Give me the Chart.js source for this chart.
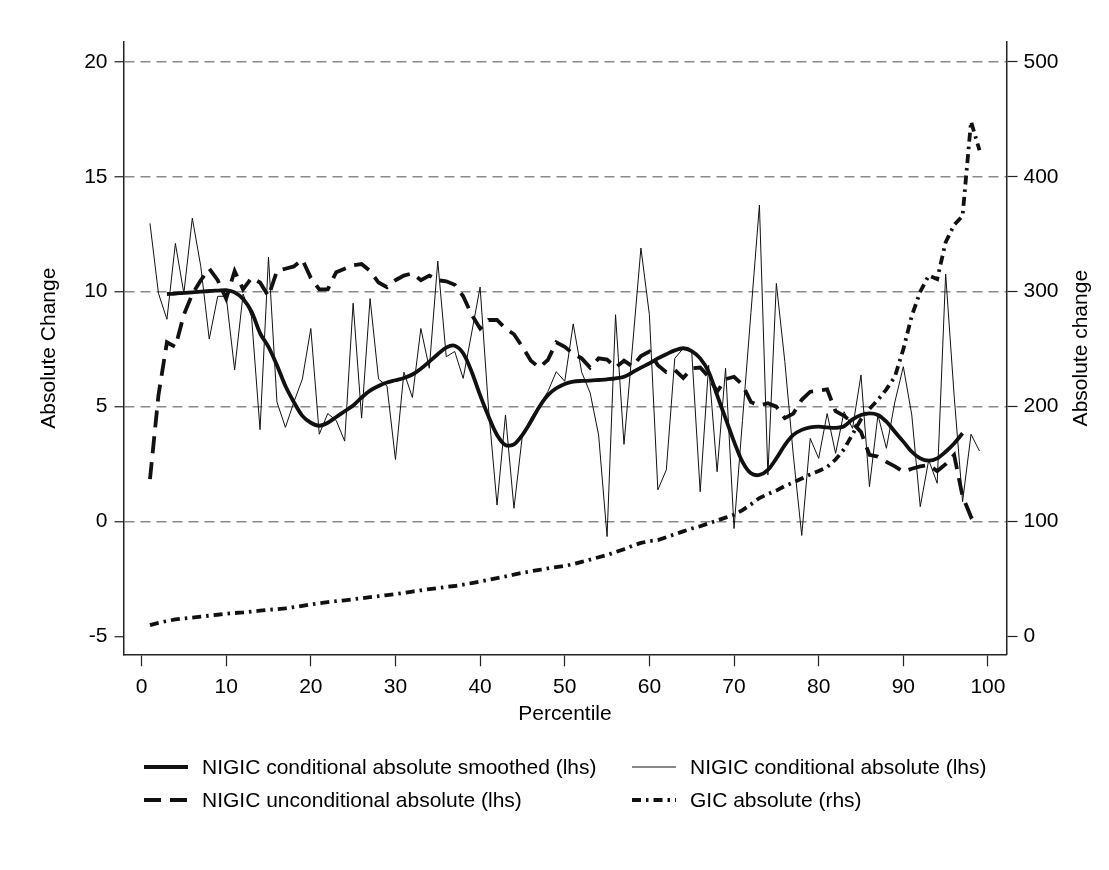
<!DOCTYPE html>
<html>
<head>
<meta charset="utf-8">
<script src="https://cdn.jsdelivr.net/npm/chart.js@4"></script>
<style>
  body { margin: 0; background: #fff; }
  #wrap { position: relative; width: 1109px; height: 870px; background: #fff;
          font-family: "Liberation Sans", Arial, sans-serif; }
  #legend { position: absolute; left: 0; top: 0; width: 1109px; height: 870px; pointer-events: none; }
  .item { position: absolute; display: flex; align-items: center; font-size: 21px; color: #000; white-space: nowrap; }
  .item svg { margin-right: 14px; }
</style>
</head>
<body>
<div id="wrap">
  <canvas id="plot" width="1109" height="730"></canvas>
  <div id="legend"></div>
</div>
<script>
// percentiles on the x axis
const percentiles = [1,2,3,4,5,6,7,8,9,10,11,12,13,14,15,16,17,18,19,20,
  21,22,23,24,25,26,27,28,29,30,31,32,33,34,35,36,37,38,39,40,
  41,42,43,44,45,46,47,48,49,50,51,52,53,54,55,56,57,58,59,60,
  61,62,63,64,65,66,67,68,69,70,71,72,73,74,75,76,77,78,79,80,
  81,82,83,84,85,86,87,88,89,90,91,92,93,94,95,96,97,98,99];

// NIGIC conditional absolute smoothed (lhs), p3..p97
const smoothed = [null,null,9.9,9.92,9.95,9.97,10.0,10.03,10.05,10.07,
  9.97,9.68,9.13,8.2,7.6,6.8,5.9,5.2,4.6,4.3,
  4.17,4.3,4.55,4.8,5.05,5.4,5.7,5.9,6.05,6.15,
  6.25,6.4,6.65,6.96,7.28,7.57,7.65,7.32,6.52,5.5,
  4.57,3.77,3.33,3.36,3.77,4.35,5.0,5.5,5.8,5.99,
  6.09,6.12,6.13,6.16,6.19,6.23,6.3,6.49,6.7,6.88,
  7.1,7.28,7.45,7.54,7.42,7.1,6.52,5.5,4.49,3.48,
  2.6,2.1,2.03,2.25,2.75,3.33,3.77,3.99,4.1,4.13,
  4.1,4.08,4.15,4.45,4.64,4.71,4.64,4.35,3.91,3.48,
  3.04,2.75,2.65,2.75,3.04,3.4,3.84,null,null];

// NIGIC conditional absolute (lhs)
const conditional = [12.97,9.93,8.8,12.1,9.93,13.2,11.1,7.94,9.8,9.8,
  6.6,9.9,8.9,4.0,11.5,5.2,4.1,5.2,6.2,8.4,
  3.8,4.7,4.4,3.5,9.5,4.5,9.7,6.2,5.9,2.7,
  6.5,5.4,8.4,6.67,11.33,7.17,7.4,6.23,8.2,10.2,
  4.9,0.72,4.64,0.58,3.77,4.5,5.07,5.65,6.52,6.1,
  8.6,6.5,5.6,3.77,-0.65,9.0,3.36,7.6,11.9,9.0,
  1.38,2.25,7.1,7.54,7.4,1.3,6.8,2.17,6.67,-0.3,
  4.4,9.1,13.77,2.03,10.36,6.96,2.9,-0.6,3.62,2.75,
  4.7,2.97,4.78,4.06,6.38,1.52,4.64,3.19,5.2,6.74,
  4.64,0.65,2.68,1.67,10.77,5.5,0.87,3.8,3.07];

// NIGIC unconditional absolute (lhs)
const unconditional = [1.85,5.5,7.8,7.6,9.0,9.9,10.5,11.0,10.5,9.7,
  10.9,10.1,10.6,10.4,9.8,10.9,11.0,11.1,11.4,10.6,
  10.1,10.1,10.85,11.0,11.15,11.2,10.9,10.4,10.2,10.5,
  10.7,10.8,10.5,10.7,10.5,10.45,10.3,9.8,9.0,8.4,
  8.77,8.77,8.4,8.15,7.6,7.0,6.7,7.03,7.8,7.6,
  7.3,7.1,6.7,7.1,7.05,6.7,7.0,6.75,7.2,7.4,
  6.8,6.5,6.6,6.25,6.67,6.7,6.3,5.65,6.2,6.3,
  5.95,5.2,5.05,5.15,5.0,4.5,4.7,5.3,5.65,5.7,
  5.75,4.8,4.6,4.3,3.9,2.9,2.83,2.6,2.4,2.17,
  2.3,2.4,2.46,2.2,2.5,2.9,1.1,0.2,0.45];

// GIC absolute (rhs)
const gic = [10,12,13.5,15,15.8,16.5,17.4,18.2,19,19.8,
  20.5,21,21.8,22.5,23.3,23.8,24.5,25.6,26.8,28,
  29,30,30.8,31.6,32.5,33.4,34.3,35.2,36.1,37,
  38,39.2,40.3,41.3,42.2,43.2,44,45.2,46.5,47.8,
  49.3,50.8,52.3,54,55.5,56.8,58,59.3,60.5,61.5,
  63,65,67,69,71,73.5,76,79,81.5,83,
  84,86.5,89,91.5,94,96,98.5,101,103.5,106,
  110,115,120.5,124,127,131,134,137.5,141,144,
  147.5,154,163,176,189,198,206,215,226,250,
  279,300,314,311,343,358,366,448,423];

const xTicks = [0,10,20,30,40,50,60,70,80,90,100];
const leftTicks = [-5,0,5,10,15,20];
const rightTicks = [0,100,200,300,400,500];

const seriesNames = [
  'NIGIC conditional absolute smoothed (lhs)',
  'NIGIC conditional absolute (lhs)',
  'NIGIC unconditional absolute (lhs)',
  'GIC absolute (rhs)'
];

const FONT = '"Liberation Sans", Arial, sans-serif';
const FSIZE = 21;
const INK = '#111';

function pts(vals) {
  return percentiles.map((p, i) => ({ x: p, y: vals[i] }));
}

function fixTicks(values) {
  return scale => { scale.ticks = values.map(v => ({ value: v })); };
}

// right axis title, rotated the same way as the left one
const rightTitle = {
  id: 'rightTitle',
  afterDraw(chart) {
    const ctx = chart.ctx;
    const area = chart.chartArea;
    ctx.save();
    ctx.translate(1081, (area.top + area.bottom) / 2);
    ctx.rotate(-Math.PI / 2);
    ctx.font = FSIZE + 'px ' + FONT;
    ctx.fillStyle = '#000';
    ctx.textAlign = 'center';
    ctx.textBaseline = 'middle';
    ctx.fillText('Absolute change', 0, 0);
    ctx.restore();
  }
};

const styles = [
  { borderWidth: 3.8, borderDash: [] },
  { borderWidth: 1, borderDash: [] },
  { borderWidth: 3.8, borderDash: [17, 9] },
  { borderWidth: 3.8, borderDash: [9, 5, 2.5, 5] }
];

const chart = new Chart(document.getElementById('plot'), {
  type: 'line',
  data: {
    datasets: [
      { label: seriesNames[0], data: pts(smoothed), yAxisID: 'y', tension: 0.3,
        borderColor: INK, ...styles[0] },
      { label: seriesNames[1], data: pts(conditional), yAxisID: 'y', tension: 0,
        borderColor: INK, ...styles[1] },
      { label: seriesNames[2], data: pts(unconditional), yAxisID: 'y', tension: 0,
        borderColor: INK, ...styles[2] },
      { label: seriesNames[3], data: pts(gic), yAxisID: 'y2', tension: 0,
        borderColor: INK, ...styles[3] }
    ]
  },
  options: {
    responsive: false,
    animation: false,
    events: [],
    layout: { padding: { top: 42, left: 0, right: 0, bottom: 0 } },
    elements: { point: { radius: 0 }, line: { fill: false, borderCapStyle: 'butt' } },
    plugins: { legend: { display: false }, tooltip: { enabled: false } },
    scales: {
      x: {
        type: 'linear',
        min: -2.13,
        max: 102.19,
        afterBuildTicks: fixTicks(xTicks),
        afterFit: s => { s.height = 75.7; },
        border: { display: true, color: '#222', width: 1.5 },
        grid: { drawOnChartArea: false, drawTicks: true, tickLength: 12, tickColor: '#222', tickWidth: 1.2 },
        ticks: { color: '#000', padding: 8, maxRotation: 0, font: { family: FONT, size: FSIZE } },
        title: { display: true, text: 'Percentile', color: '#000', padding: { top: 0, bottom: 3 },
                 font: { family: FONT, size: FSIZE } }
      },
      y: {
        position: 'left',
        min: -5.77,
        max: 20.86,
        afterBuildTicks: fixTicks(leftTicks),
        afterFit: s => { s.width = 123.5; },
        border: { display: true, color: '#222', width: 1.5, dash: [10, 6] },
        grid: {
          drawOnChartArea: true,
          color: c => (c.tick && c.tick.value === -5) ? 'rgba(0,0,0,0)' : '#8a8a8a',
          lineWidth: 1.5,
          tickColor: '#222', tickWidth: 1.2, tickLength: 9, tickBorderDash: []
        },
        ticks: { color: '#000', padding: 7, font: { family: FONT, size: FSIZE } },
        title: { display: true, text: 'Absolute Change', color: '#000', padding: { top: 37, bottom: 0 },
                 font: { family: FONT, size: FSIZE } }
      },
      y2: {
        position: 'right',
        min: -15.4,
        max: 517.2,
        afterBuildTicks: fixTicks(rightTicks),
        afterFit: s => { s.width = 102.5; },
        border: { display: true, color: '#222', width: 1.5 },
        grid: { drawOnChartArea: false, drawTicks: true, tickColor: '#222', tickWidth: 1.2, tickLength: 11 },
        ticks: { color: '#000', padding: 6, font: { family: FONT, size: FSIZE } }
      }
    }
  },
  plugins: [rightTitle]
});

// legend below the plot, two columns like the original
const legendPos = [
  { left: 144, top: 767 },
  { left: 632, top: 767 },
  { left: 144, top: 800 },
  { left: 632, top: 800 }
];
const legendBox = document.getElementById('legend');
chart.data.datasets.forEach((ds, i) => {
  const item = document.createElement('div');
  item.className = 'item';
  item.style.left = legendPos[i].left + 'px';
  item.style.top = (legendPos[i].top - 14) + 'px';
  item.style.height = '28px';
  const dash = (ds.borderDash || []).join(' ');
  item.innerHTML =
    '<svg width="44" height="10"><line x1="0" y1="5" x2="44" y2="5" stroke="#111" stroke-width="' +
    ds.borderWidth + '"' + (dash ? ' stroke-dasharray="' + dash + '"' : '') + '/></svg>';
  const label = document.createElement('span');
  label.textContent = ds.label;
  item.appendChild(label);
  legendBox.appendChild(item);
});
</script>
</body>
</html>
